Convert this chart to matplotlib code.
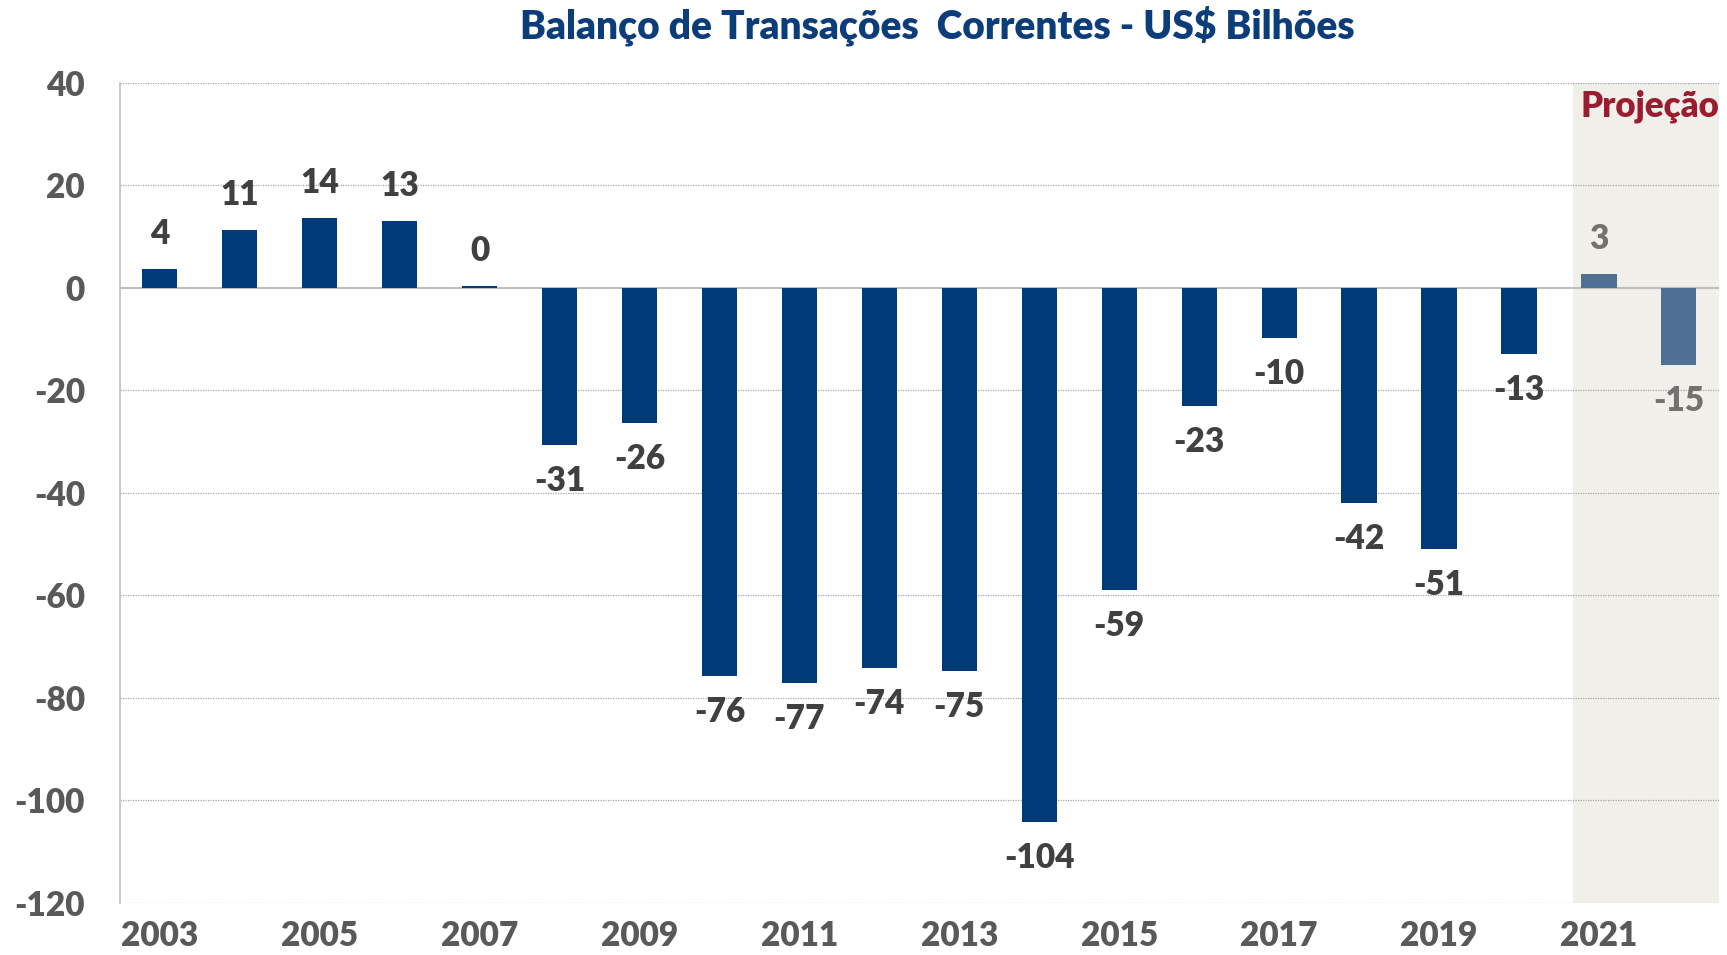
import matplotlib
matplotlib.use("Agg")
import matplotlib.pyplot as plt
import numpy as np

plt.rcParams['font.family'] = ['Lato', 'DejaVu Sans']
plt.rcParams['font.weight'] = 'heavy'

years = list(range(2003, 2023))
values = [3.7, 11.2, 13.5, 13.0, 0.4, -30.7, -26.4, -75.8, -77.1, -74.1,
          -74.8, -104.2, -58.9, -23.0, -9.9, -41.9, -50.9, -12.9, 2.6, -15.0]
projected = [False] * 18 + [True, True]
yticks = [40, 20, 0, -20, -40, -60, -80, -100, -120]

navy = '#003A78'
proj_blue = '#4D7094'
label_dark = '#404040'
label_proj = '#767171'
tick_gray = '#595959'
W = 'heavy'

fig = plt.figure(figsize=(17.27, 9.55), dpi=100)
ax = fig.add_axes([0.0693, 0.0545, 0.926, 0.859])

x = np.arange(len(years))
ax.set_xlim(-0.5, len(years) - 0.5)
ax.set_ylim(-120, 40)

# projection shading
ax.axvspan(17.68, 19.5, color='#F0EFE9', zorder=0, lw=0)

colors = [proj_blue if p else navy for p in projected]
ax.bar(x, values, width=0.44, color=colors, zorder=3)

for xi, v, p in zip(x, values, projected):
    c = label_proj if p else label_dark
    off = 35 if v >= 0 else -36
    ax.annotate(f"{round(v):d}", (xi, v), xytext=(0, off), textcoords='offset pixels',
                ha='center', va='center', fontsize=24, fontweight=W, color=c, zorder=4)

for t in yticks:
    if t == 0:
        ax.axhline(0, color='#BFBFBF', lw=1.5, zorder=2)
    else:
        ax.axhline(t, color='#A6A6A6', lw=0.9, ls=(0, (1, 1)), zorder=1)

for s in ['top', 'right', 'bottom']:
    ax.spines[s].set_visible(False)
ax.spines['left'].set_color('#BFBFBF')
ax.spines['left'].set_linewidth(1.2)

ax.set_yticks(yticks)
ax.set_yticklabels([str(t) for t in yticks], fontsize=24, fontweight=W, color=tick_gray)
ax.tick_params(axis='y', length=0, pad=25)

ax.set_xticks(x[::2])
ax.set_xticklabels([str(y) for y in years[::2]], fontsize=24, fontweight=W, color=tick_gray)
ax.tick_params(axis='x', length=0, pad=12)

ax.text(19.5, 35.3, "Projeção", ha='right', va='center', fontsize=25,
        fontweight=W, color='#9B1B30', zorder=5)

fig.text(0.543, 0.973, "Balanço de Transações  Correntes - US$ Bilhões", ha='center', va='center',
         fontsize=28, fontweight=W, color='#0B3D7A')

fig.savefig("out.png", dpi=100)
